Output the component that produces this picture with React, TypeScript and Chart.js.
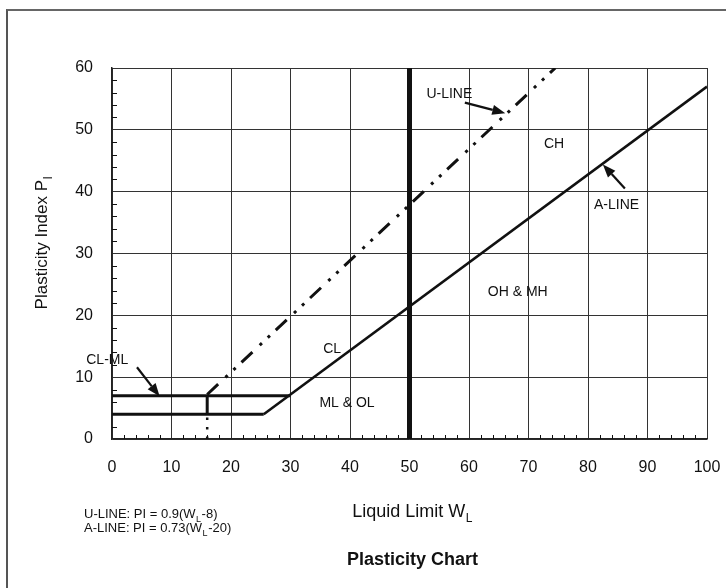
import { useEffect, useRef } from "react";
import { Chart, registerables } from "chart.js";

Chart.register(...registerables);

// ---- data (Liquid Limit W_L on x, Plasticity Index P_I on y) ----
const xTickValues = [0, 10, 20, 30, 40, 50, 60, 70, 80, 90, 100];
const yTickValues = [0, 10, 20, 30, 40, 50, 60];
const minorStep = 2;

const aLinePoints = [
  { x: 25.5, y: 4 },
  { x: 100, y: 57 },
];
const uLinePoints = [
  { x: 16, y: 7.2 },
  { x: 74.5, y: 60 },
];
const uLineStemDotted = [
  { x: 16, y: 0 },
  { x: 16, y: 4 },
];
const uLineStemSolid = [
  { x: 16, y: 4 },
  { x: 16, y: 7 },
];
const clmlUpper = [
  { x: 0, y: 7 },
  { x: 30, y: 7 },
];
const clmlLower = [
  { x: 0, y: 4 },
  { x: 25.5, y: 4 },
];
const liquidLimit50 = [
  { x: 50, y: 0 },
  { x: 50, y: 60 },
];

const zoneLabels = [
  { text: "U-LINE", x: 56.7, y: 55.7 },
  { text: "CH", x: 74.3, y: 47.7 },
  { text: "A-LINE", x: 84.8, y: 37.9 },
  { text: "OH & MH", x: 68.2, y: 23.8 },
  { text: "CL", x: 37, y: 14.5 },
  { text: "ML & OL", x: 39.5, y: 5.8 },
  { text: "CL-ML", x: -0.8, y: 12.7 },
];

const arrowList = [
  { fx: 59.3, fy: 54.4, tx: 66.1, ty: 52.7 },
  { fx: 86.2, fy: 40.5, tx: 82.5, ty: 44.4 },
  { fx: 4.2, fy: 11.6, tx: 8.0, ty: 6.9 },
];

const xTitle = [{ t: "Liquid Limit W" }, { t: "L", sub: true }];
const yTitle = [{ t: "Plasticity Index P" }, { t: "I", sub: true }];
const noteU = [{ t: "U-LINE: PI = 0.9(W" }, { t: "L", sub: true }, { t: "-8)" }];
const noteA = [{ t: "A-LINE: PI = 0.73(W" }, { t: "L", sub: true }, { t: "-20)" }];
const chartTitle = "Plasticity Chart";

const FONT = '"Liberation Sans", Arial, Helvetica, sans-serif';
const INK = "#111";

type Seg = { t: string; sub?: boolean };

function drawSegs(
  ctx: CanvasRenderingContext2D,
  segs: Seg[],
  x: number,
  y: number,
  size: number,
  align: "left" | "center",
  weight = "normal"
) {
  const subSize = Math.round(size * 0.68);
  const widths = segs.map((s) => {
    ctx.font = `${weight} ${s.sub ? subSize : size}px ${FONT}`;
    return ctx.measureText(s.t).width + (s.sub ? 1 : 0);
  });
  const total = widths.reduce((a, b) => a + b, 0);
  let cx = align === "center" ? x - total / 2 : x;
  ctx.textAlign = "left";
  ctx.textBaseline = "alphabetic";
  segs.forEach((s, i) => {
    ctx.font = `${weight} ${s.sub ? subSize : size}px ${FONT}`;
    ctx.fillText(s.t, cx + (s.sub ? 0.5 : 0), s.sub ? y + size * 0.3 : y);
    cx += widths[i];
  });
}

const decorPlugin = {
  id: "decor",
  afterDatasetsDraw(chart: any) {
    const { ctx, scales, chartArea } = chart;
    const xs = scales.x;
    const ys = scales.y;
    ctx.save();
    ctx.fillStyle = INK;
    ctx.strokeStyle = INK;

    // minor ticks (inside the plot, along left and bottom axes)
    ctx.lineWidth = 1;
    ctx.beginPath();
    for (let v = 0; v <= 100; v += minorStep) {
      if (v % 10 === 0) continue;
      const px = Math.round(xs.getPixelForValue(v)) + 0.5;
      ctx.moveTo(px, chartArea.bottom);
      ctx.lineTo(px, chartArea.bottom - 4);
    }
    for (let v = 0; v <= 60; v += minorStep) {
      if (v % 10 === 0) continue;
      const py = Math.round(ys.getPixelForValue(v)) + 0.5;
      ctx.moveTo(chartArea.left, py);
      ctx.lineTo(chartArea.left + 5, py);
    }
    ctx.stroke();

    // zone labels
    ctx.font = `14px ${FONT}`;
    ctx.textAlign = "center";
    ctx.textBaseline = "middle";
    zoneLabels.forEach((l) => {
      ctx.fillText(l.text, xs.getPixelForValue(l.x), ys.getPixelForValue(l.y));
    });

    // arrows
    arrowList.forEach((a) => {
      const x1 = xs.getPixelForValue(a.fx);
      const y1 = ys.getPixelForValue(a.fy);
      const x2 = xs.getPixelForValue(a.tx);
      const y2 = ys.getPixelForValue(a.ty);
      const ang = Math.atan2(y2 - y1, x2 - x1);
      const hl = 13;
      const hw = 5;
      const bx = x2 - hl * Math.cos(ang);
      const by = y2 - hl * Math.sin(ang);
      ctx.lineWidth = 2.2;
      ctx.beginPath();
      ctx.moveTo(x1, y1);
      ctx.lineTo(bx, by);
      ctx.stroke();
      ctx.beginPath();
      ctx.moveTo(x2, y2);
      ctx.lineTo(bx + hw * Math.sin(ang), by - hw * Math.cos(ang));
      ctx.lineTo(bx - hw * Math.sin(ang), by + hw * Math.cos(ang));
      ctx.closePath();
      ctx.fill();
    });

    // axis titles, notes and chart title
    const midX = (chartArea.left + chartArea.right) / 2;
    drawSegs(ctx, xTitle, midX + 3, 517, 18, "center");
    drawSegs(ctx, noteU, 84, 518, 13, "left");
    drawSegs(ctx, noteA, 84, 532, 13, "left");
    ctx.fillStyle = INK;
    ctx.font = `bold 18px ${FONT}`;
    ctx.textAlign = "center";
    ctx.textBaseline = "middle";
    ctx.fillText(chartTitle, midX + 3, 560);

    ctx.save();
    ctx.translate(47, (chartArea.top + chartArea.bottom) / 2 - 11);
    ctx.rotate(-Math.PI / 2);
    drawSegs(ctx, yTitle, 0, 0, 17, "center");
    ctx.restore();

    ctx.restore();
  },
};

export default function App() {
  const ref = useRef<HTMLCanvasElement | null>(null);

  useEffect(() => {
    if (!ref.current) return;
    const lineDs = (data: any[], width: number, dash: number[] = []) => ({
      data,
      showLine: true,
      borderColor: INK,
      backgroundColor: INK,
      borderWidth: width,
      borderDash: dash,
      borderCapStyle: "butt",
      pointRadius: 0,
      pointHoverRadius: 0,
      fill: false,
      tension: 0,
    });
    const chart = new Chart(ref.current, {
      type: "scatter",
      data: {
        datasets: [
          lineDs(liquidLimit50, 5),
          lineDs(aLinePoints, 2.6),
          lineDs(uLinePoints, 3, [15, 10, 3, 8, 3, 8]),
          lineDs(uLineStemDotted, 2.5, [2.5, 7]),
          lineDs(uLineStemSolid, 3),
          lineDs(clmlUpper, 3),
          lineDs(clmlLower, 3),
        ] as any,
      },
      options: {
        responsive: false,
        animation: false,
        devicePixelRatio: 1,
        layout: { padding: { left: 0, top: 68, right: 19, bottom: 0 } },
        plugins: {
          legend: { display: false },
          tooltip: { enabled: false },
          title: { display: false },
        },
        events: [],
        scales: {
          x: {
            type: "linear",
            min: 0,
            max: 100,
            afterBuildTicks: (s: any) => {
              s.ticks = xTickValues.map((v) => ({ value: v }));
            },
            afterFit: (s: any) => {
              s.height = 149;
              s.paddingLeft = 0;
              s.paddingRight = 0;
            },
            ticks: {
              color: INK,
              font: { size: 16, family: FONT },
              padding: 19,
              maxRotation: 0,
            },
            grid: { color: "#333", lineWidth: 1, drawTicks: false },
            border: { color: "#222", width: 1.5 },
          },
          y: {
            type: "linear",
            min: 0,
            max: 60,
            afterBuildTicks: (s: any) => {
              s.ticks = yTickValues.map((v) => ({ value: v }));
            },
            afterFit: (s: any) => {
              s.width = 112;
              s.paddingTop = 0;
              s.paddingBottom = 0;
            },
            ticks: {
              color: INK,
              font: { size: 16, family: FONT },
              padding: 19,
            },
            grid: { color: "#333", lineWidth: 1, drawTicks: false },
            border: { color: "#222", width: 1.5 },
          },
        },
      } as any,
      plugins: [decorPlugin],
    });
    return () => chart.destroy();
  }, []);

  return (
    <div
      style={{
        position: "fixed",
        left: 0,
        top: 0,
        width: 726,
        height: 588,
        overflow: "hidden",
        background: "#fff",
      }}
    >
      <div
        style={{
          position: "absolute",
          left: 6,
          top: 9,
          width: 760,
          height: 620,
          borderLeft: "2px solid #555",
          borderTop: "2px solid #666",
        }}
      />
      <canvas
        ref={ref}
        width={726}
        height={588}
        style={{ position: "absolute", left: 0, top: 0 }}
      />
    </div>
  );
}
